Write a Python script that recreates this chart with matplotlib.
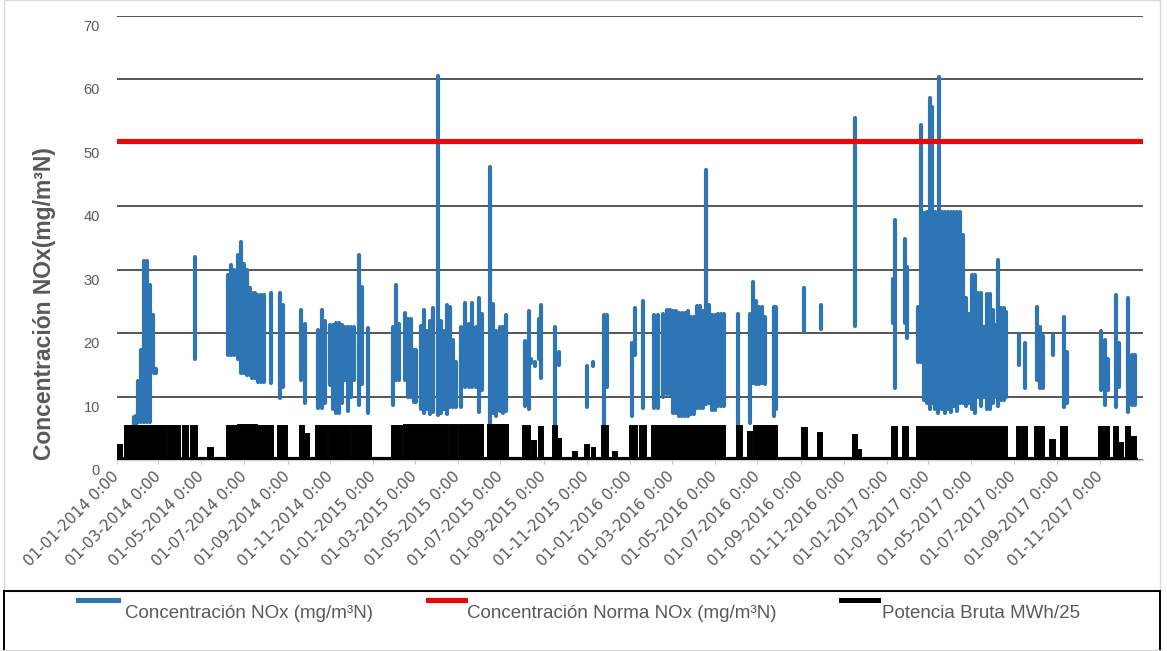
import datetime as dt
import matplotlib
matplotlib.use("Agg")
import matplotlib.pyplot as plt
import matplotlib.dates as mdates
from matplotlib.lines import Line2D
import numpy as np
import pandas as pd

# ---------------- data ----------------
START = dt.datetime(2014, 1, 1)
END = dt.datetime(2018, 1, 1)

# NOx concentration: day offset since 01-01-2014, low and high of each burst
nox_day = [24, 27, 30, 34, 38, 43, 47, 51, 53, 56,
           111,
           158, 162, 167, 172, 177, 181, 185, 189, 192, 196, 201, 205, 209, 219, 232, 236,
           262, 268,
           286, 292, 296,
           303, 308, 312, 316, 320, 325, 329, 333, 337, 345, 349, 357,
           393, 397, 402, 410, 414, 419, 423, 426,
           433, 437, 441, 446, 450, 457, 461, 466, 470, 474, 478, 483, 490, 496, 501, 505, 511, 515, 520,
           531, 535, 540, 545, 550, 554,
           581, 587, 590, 595, 601, 604, 624, 629, 669, 678, 693, 698,
           733, 738, 749, 765, 770, 777, 783, 787, 792, 796, 800, 805, 809, 813, 817, 822, 826, 830, 834,
           839, 843, 847, 851, 856, 860, 864,
           884, 901, 906, 910, 914, 918, 923, 935, 938,
           978, 1002, 1051,
           1105, 1108, 1122, 1125, 1141, 1145, 1149, 1153, 1157, 1160, 1165, 1169, 1171, 1175, 1179, 1183,
           1188, 1192, 1196, 1200, 1205, 1209, 1213, 1217, 1222, 1226, 1230, 1235, 1239, 1243, 1247, 1250,
           1254, 1259, 1263, 1266,
           1284, 1293, 1310, 1314, 1319, 1333, 1348, 1353, 1401, 1407, 1411, 1422, 1427, 1440, 1445, 1449]
nox_low = [5.2, 5.5, 6.0, 6.0, 6.0, 6.0, 6.0, 14.0, 13.8, 13.8,
           16.0,
           16.6, 16.6, 16.6, 16.0, 13.7, 13.7, 13.4, 13.4, 12.9, 12.9, 12.3, 12.3, 12.3, 12.2, 9.8, 11.6,
           12.6, 9.0,
           8.2, 8.2, 9.0,
           11.8, 8.0, 7.4, 7.4, 9.0, 12.6, 7.8, 10.0, 12.6, 8.7, 12.0, 7.4,
           8.7, 12.6, 12.6, 12.6, 10.0, 10.0, 9.2, 9.2,
           8.0, 7.5, 8.0, 7.2, 7.6, 7.1, 7.5, 8.0, 7.2, 8.4, 8.4, 8.4, 8.4, 11.6, 11.6, 11.6, 11.6, 7.6, 11.0,
           5.5, 7.5, 7.0, 7.7, 7.5, 7.7,
           8.5, 8.1, 15.3, 14.8, 16.0, 12.9, 5.5, 15.0, 8.4, 14.8, 5.3, 11.6,
           6.9, 16.5, 8.2, 8.2, 8.2, 9.9, 10.5, 10.5, 7.4, 7.4, 6.9, 6.9, 6.9, 6.9, 7.2, 7.2, 8.2, 8.2, 8.2,
           8.8, 9.0, 7.9, 7.9, 8.6, 8.6, 8.6,
           4.8, 5.8, 12.1, 12.0, 12.0, 12.1, 12.0, 6.9, 8.0,
           20.2, 20.6, 21.1,
           21.6, 11.3, 21.6, 19.2, 15.5, 15.5, 9.5, 9.0, 8.0, 9.0, 8.0, 7.4, 8.0, 8.0, 7.4, 8.0,
           7.6, 8.5, 7.8, 9.0, 9.0, 8.5, 9.0, 8.0, 7.4, 10.0, 8.5, 10.0, 8.0, 8.0, 9.0, 10.0,
           8.5, 9.5, 9.5, 10.0,
           15.0, 11.3, 12.6, 11.3, 11.3, 16.6, 8.4, 9.0, 11.1, 8.7, 11.0, 8.4, 11.5, 7.6, 8.7, 8.7]
nox_high = [6.8, 7.0, 12.4, 17.4, 31.3, 31.3, 27.6, 22.9, 14.5, 14.3,
            32.0,
            29.2, 30.7, 30.0, 32.3, 34.4, 30.9, 30.0, 27.1, 26.3, 26.3, 26.0, 26.0, 26.0, 26.3, 26.3, 24.5,
            23.6, 21.5,
            20.5, 23.6, 22.0,
            21.3, 21.3, 21.6, 21.6, 21.3, 21.0, 21.0, 21.0, 21.0, 32.3, 27.3, 20.8,
            21.0, 27.6, 21.5, 23.2, 22.3, 22.3, 17.4, 17.4,
            21.2, 23.6, 20.3, 22.0, 23.9, 60.5, 22.0, 20.3, 24.4, 24.2, 18.9, 15.5, 20.9, 24.8, 21.5, 24.8, 21.0, 25.5, 23.0,
            46.2, 24.6, 20.4, 21.0, 21.0, 22.9,
            18.7, 23.5, 16.0, 15.5, 22.3, 24.5, 20.9, 17.0, 14.9, 15.5, 22.9, 22.9,
            18.4, 23.9, 25.1, 22.8, 22.8, 23.0, 23.7, 23.7, 23.5, 23.5, 23.2, 23.2, 23.2, 23.5, 22.6, 22.6, 24.3, 24.3, 23.5,
            45.7, 24.5, 22.8, 22.8, 23.1, 23.1, 23.1,
            23.0, 23.0, 28.1, 25.0, 24.2, 24.2, 22.6, 24.1, 24.1,
            27.1, 24.4, 53.9,
            28.6, 37.8, 34.8, 30.5, 24.2, 52.8, 38.9, 39.1, 57.0, 55.7, 39.1, 39.1, 60.3, 39.1, 39.1, 39.1,
            39.1, 39.1, 39.1, 39.1, 35.5, 25.5, 23.0, 29.2, 29.2, 26.4, 26.4, 21.0, 26.2, 26.2, 23.6, 21.3,
            31.5, 24.0, 24.0, 23.3,
            19.8, 18.4, 24.1, 21.0, 19.5, 19.7, 22.5, 17.1, 20.4, 18.9, 16.0, 26.0, 18.5, 25.6, 16.6, 16.6]

# NOx limit (norma)
norma_nox = 50.2

# Gross power MWh/25: operating periods (day offsets) and level
pot_start = [1, 11, 73, 94, 105, 130, 157, 172, 201, 215, 229, 261, 268, 283, 302, 335, 392, 409,
             474, 487, 528, 578, 591, 601, 621, 627, 649, 666, 676, 691, 706, 730, 745, 762, 883, 898,
             907, 975, 998, 1048, 1054, 1103, 1119, 1139, 1281, 1290, 1307, 1328, 1344, 1398, 1420,
             1427, 1437, 1442]
pot_end = [7, 70, 90, 101, 114, 137, 171, 199, 214, 222, 242, 266, 273, 299, 332, 362, 406, 471,
           484, 521, 557, 588, 597, 607, 627, 632, 655, 672, 681, 699, 712, 740, 753, 866, 890, 904,
           940, 982, 1004, 1054, 1059, 1111, 1126, 1267, 1287, 1296, 1320, 1336, 1353, 1413, 1425,
           1432, 1442, 1451]
pot_top = [2.4, 5.4, 5.4, 5.4, 5.4, 1.9, 5.4, 5.5, 5.4, 5.4, 5.4, 5.4, 4.2, 5.4, 5.4, 5.4, 5.4, 5.6,
           5.6, 5.6, 5.6, 5.4, 3.0, 5.3, 5.4, 3.3, 1.3, 2.4, 1.9, 5.4, 1.3, 5.4, 5.4, 5.4, 5.4, 4.5,
           5.4, 5.1, 4.3, 4.0, 1.6, 5.2, 5.2, 5.2, 5.2, 5.2, 5.2, 3.2, 5.2, 5.2, 5.2, 2.7, 5.2, 3.7]
pot_base = 0.2

y_ticks = [0, 10, 20, 30, 40, 50, 60, 70]
y_label = "Concentración NOx(mg/m³N)"
legend_labels = ["Concentración NOx (mg/m³N)",
                 "Concentración Norma NOx (mg/m³N)",
                 "Potencia Bruta MWh/25"]

BLUE = "#2E75B6"
RED = "#FF0000"
GREY_TXT = "#595959"

# ---------------- figure ----------------
W, H = 1167, 651
fig = plt.figure(figsize=(W / 100, H / 100), dpi=100)
fx = lambda x: x / W
fy = lambda y: 1 - y / H

ax = fig.add_axes([fx(117), fy(460.2), (1143 - 117) / W, (460.2 - 15.7) / H])

base = mdates.date2num(START)
nd = base + np.array(nox_day, dtype=float)

# blue NOx bursts
vl = ax.vlines(nd, nox_low, nox_high, colors=BLUE, linewidth=3.0, zorder=3)
vl.set_capstyle("round")

# red limit
ax.axhline(norma_nox, color=RED, linewidth=3.6, zorder=4)

# black power
ps = base + np.array(pot_start, dtype=float)
pe = base + np.array(pot_end, dtype=float)
pt = np.array(pot_top)
ax.plot([ps.min(), pe.max()], [pot_base, pot_base], color="black", linewidth=3.0,
        solid_capstyle="round", zorder=5)
ax.bar(ps, pt - pot_base, width=pe - ps, bottom=pot_base, align="edge",
       color="black", edgecolor="black", linewidth=1.4, zorder=5)

# axes styling
ax.set_xlim(mdates.date2num(START), mdates.date2num(END))
ax.set_ylim(0, 70)
ax.set_yticks(y_ticks)
ax.yaxis.grid(True, color="#3a3a3a", linewidth=1.2, zorder=0)
ax.set_axisbelow(True)
for s in ["left", "right", "top"]:
    ax.spines[s].set_visible(False)
ax.spines["bottom"].set_color("#d0d0d0")
ax.spines["bottom"].set_linewidth(1.0)
ax.tick_params(axis="y", length=0, labelleft=False)

for v in y_ticks:
    ax.annotate(str(v), xy=(0, v), xycoords=("axes fraction", "data"),
                xytext=(-17 * 0.72, -11 * 0.72), textcoords="offset points",
                ha="right", va="center", fontsize=10.5, color=GREY_TXT,
                family="Liberation Sans")

xt = pd.date_range("2014-01-01", "2017-11-01", freq="2MS")
ax.set_xticks(mdates.date2num(xt.to_pydatetime()))
ax.xaxis.set_major_formatter(mdates.DateFormatter("%d-%m-%Y 0:00"))
ax.tick_params(axis="x", length=3, color="#c8c8c8", pad=7, labelsize=11,
               labelcolor=GREY_TXT)
for lbl in ax.get_xticklabels():
    lbl.set_rotation(45)
    lbl.set_ha("right")
    lbl.set_va("center")
    lbl.set_rotation_mode("anchor")
    lbl.set_family("DejaVu Sans")

fig.text(fx(45), fy(304), y_label, rotation=90, ha="center", va="center",
         fontsize=16.5, fontweight="bold", color=GREY_TXT, family="Liberation Sans")

# chart frame
fig.add_artist(plt.Rectangle((fx(4), fy(591)), (1160 - 4) / W, 591 / H, transform=fig.transFigure,
                             fill=False, edgecolor="#d9d9d9", linewidth=1.0))
# legend box
for (x0, y0, x1, y1, c) in [(3.5, 591, 1160, 591, "black"), (3.5, 591, 3.5, 650.5, "black"),
                            (1160, 591, 1160, 650.5, "black"), (3.5, 650.5, 1160, 650.5, "#d0d0d0")]:
    fig.add_artist(Line2D([fx(x0), fx(x1)], [fy(y0), fy(y1)], transform=fig.transFigure,
                          color=c, linewidth=1.4))

handles_x = [(78, 118), (428, 465), (841, 878)]
text_x = [125, 467, 882]
colors = [BLUE, RED, "black"]
for (h0, h1), tx, c, lab in zip(handles_x, text_x, colors, legend_labels):
    fig.add_artist(Line2D([fx(h0), fx(h1)], [fy(600), fy(600)], transform=fig.transFigure,
                          color=c, linewidth=3.6))
    fig.text(fx(tx), fy(613), lab, ha="left", va="center", fontsize=13.5,
             color=GREY_TXT, family="Liberation Sans")

fig.savefig("out.png", dpi=100)
